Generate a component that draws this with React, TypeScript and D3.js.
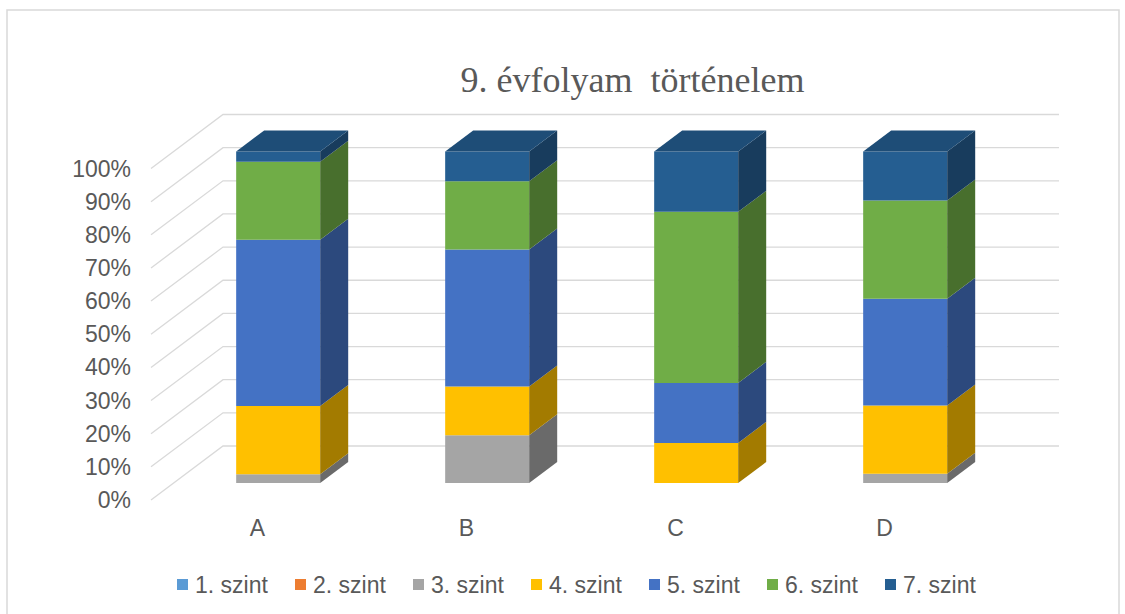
import React from "react";
import * as d3 from "d3";

const categories = ["A", "B", "C", "D"];
const seriesNames = ["1. szint", "2. szint", "3. szint", "4. szint", "5. szint", "6. szint", "7. szint"];
const seriesColors = ["#5B9BD5", "#ED7D31", "#A5A5A5", "#FFC000", "#4472C4", "#70AD47", "#255E91"];
// percentage share of each level per category
const level1 = [0, 0, 0, 0];
const level2 = [0, 0, 0, 0];
const level3 = [2.6, 14.4, 0, 2.8];
const level4 = [20.6, 14.7, 12.1, 20.6];
const level5 = [50.2, 41.3, 18.1, 32.2];
const level6 = [23.5, 20.6, 51.6, 29.6];
const level7 = [3.1, 9.0, 18.2, 14.8];
const yTicks = [0, 0.1, 0.2, 0.3, 0.4, 0.5, 0.6, 0.7, 0.8, 0.9, 1];
const title = "9. évfolyam  történelem";

const W = 1125;
const H = 614;
const DEPTH_X = 72;
const DEPTH_Y = -54;
const Z0 = 0.315;
const Z1 = 0.704;

export default function App() {
  const levels = [level1, level2, level3, level4, level5, level6, level7];
  const rows = categories.map((c, i) => {
    const r: any = { cat: c };
    seriesNames.forEach((s, k) => (r[s] = levels[k][i]));
    return r;
  });
  const stack = d3.stack<any>().keys(seriesNames).offset(d3.stackOffsetExpand);
  const stacked = stack(rows);

  const x = d3.scaleBand<string>().domain(categories).range([151, 987]).paddingInner(0.598).paddingOuter(0.299);
  const y = d3.scaleLinear().domain([0, 1]).range([500, 168.5]);
  const fmt = d3.format(".0%");

  const proj = (px: number, v: number, z: number): [number, number] => [px + z * DEPTH_X, y(v) + z * DEPTH_Y];
  const poly = (pts: [number, number][]) => pts.map((p) => p.join(",")).join(" ");
  const shade = (c: string, f: number) => {
    const col = d3.rgb(c);
    return d3.rgb(col.r * f, col.g * f, col.b * f).formatHex();
  };

  const textColor = "#595959";
  const gridColor = "#D9D9D9";
  const sans = "'Liberation Sans', Arial, sans-serif";

  const bars: React.ReactNode[] = [];
  categories.forEach((cat, ci) => {
    const x0 = x(cat)!;
    const x1 = x0 + x.bandwidth();
    let topIdx = -1;
    stacked.forEach((s, si) => {
      const [v0, v1] = s[ci];
      if (v1 - v0 > 1e-9) topIdx = si;
    });
    stacked.forEach((s, si) => {
      const [v0, v1] = s[ci];
      if (v1 - v0 <= 1e-9) return;
      const color = seriesColors[si];
      const front = [proj(x0, v0, Z0), proj(x1, v0, Z0), proj(x1, v1, Z0), proj(x0, v1, Z0)];
      const side = [proj(x1, v0, Z0), proj(x1, v0, Z1), proj(x1, v1, Z1), proj(x1, v1, Z0)];
      bars.push(<polygon key={`f${ci}-${si}`} points={poly(front)} fill={color} />);
      bars.push(<polygon key={`s${ci}-${si}`} points={poly(side)} fill={shade(color, 0.64)} />);
      if (si === topIdx) {
        const top = [proj(x0, v1, Z0), proj(x1, v1, Z0), proj(x1, v1, Z1), proj(x0, v1, Z1)];
        bars.push(<polygon key={`t${ci}-${si}`} points={poly(top)} fill={shade(color, 0.82)} />);
      }
    });
  });

  return (
    <svg width={W} height={H} style={{ position: "absolute", left: 0, top: 0, display: "block", background: "#fff" }}>
      <rect x={7} y={10} width={1112} height={640} fill="#fff" stroke={gridColor} strokeWidth={1.5} />
      <text x={632.5} y={92} textAnchor="middle" fontFamily="'Liberation Serif', 'Times New Roman', serif" fontSize={36} fill={textColor} style={{ whiteSpace: "pre" }}>
        {title}
      </text>
      {yTicks.map((t) => {
        const a = proj(151, t, 0);
        const b = proj(151, t, 1);
        const c = proj(987, t, 1);
        return (
          <g key={t}>
            <polyline points={poly([a, b, c])} fill="none" stroke={gridColor} strokeWidth={1.3} />
            <text x={131} y={y(t)} dy="0.35em" textAnchor="end" fontFamily={sans} fontSize={23} fill={textColor}>
              {fmt(t)}
            </text>
          </g>
        );
      })}
      {bars}
      {categories.map((c) => (
        <text key={c} x={x(c)! + x.bandwidth() / 2 + 2} y={536} textAnchor="middle" fontFamily={sans} fontSize={23} fill={textColor}>
          {c}
        </text>
      ))}
      {seriesNames.map((s, i) => {
        const mx = 177 + i * 118;
        return (
          <g key={s}>
            <rect x={mx} y={579} width={11} height={11} fill={seriesColors[i]} />
            <text x={mx + 18} y={592.5} fontFamily={sans} fontSize={23} fill={textColor}>
              {s}
            </text>
          </g>
        );
      })}
    </svg>
  );
}
